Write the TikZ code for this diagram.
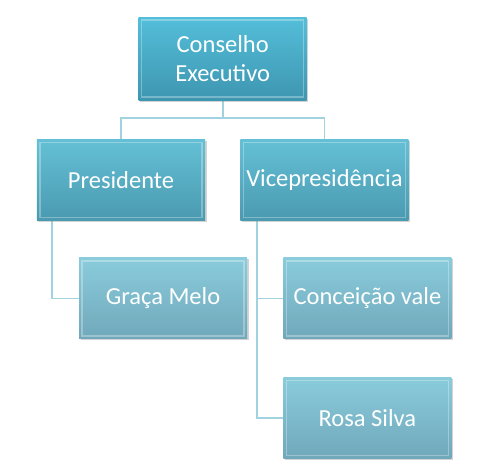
\documentclass[tikz,border=0pt]{standalone}
\usepackage{fontspec}
\setmainfont{Carlito}
\usepackage{tikz}
\usetikzlibrary{
  backgrounds,
  calc,
  positioning,
  shadows
}
\definecolor{headtop}{RGB}{84,190,218}
\definecolor{headbot}{RGB}{62,150,176}
\definecolor{midtop}{RGB}{100,192,214}
\definecolor{midbot}{RGB}{74,154,176}
\definecolor{leaftop}{RGB}{138,204,220}
\definecolor{leafbot}{RGB}{112,168,186}
\definecolor{linkblue}{RGB}{162,210,224}
\tikzset{
  orgbox/.style={draw=none,minimum width=168bp,minimum height=81bp,
    inner sep=0pt,align=center,text=white,
    font=\fontsize{24.5bp}{29bp}\selectfont,
    drop shadow={opacity=.35,shadow xshift=1.5bp,shadow yshift=-1.5bp},
    path picture={\draw[white,opacity=.3,line width=1.5bp]
      ([shift={(3bp,3bp)}]path picture bounding box.south west) rectangle
      ([shift={(-3bp,-3bp)}]path picture bounding box.north east);}},
  headbox/.style={orgbox,minimum height=83bp,top color=headtop,bottom color=headbot},
  midbox/.style={orgbox,top color=midtop,bottom color=midbot},
  leafbox/.style={orgbox,top color=leaftop,bottom color=leafbot},
  link/.style={draw=linkblue,line width=1.8bp}
}
\begin{document}
\begin{tikzpicture}[x=1bp,y=-1bp]
  \useasboundingbox (0,0) rectangle (500,472);
  \node[midbox] (pres) at (121,180) {Presidente};
  \node[midbox,right=35bp of pres] (vice) {Vicepresidência};
  \node[headbox,above=39bp of $(pres.north)!.5!(vice.north)$,anchor=south] (cons)
    {Conselho\\Executivo};
  \node[leafbox,below=37bp of pres,xshift=42bp] (graca) {Graça Melo};
  \node[leafbox,below=37bp of vice,xshift=43bp] (conc) {Conceição vale};
  \node[leafbox,below=38bp of conc] (rosa) {Rosa Silva};
  \begin{scope}[on background layer]
    \draw[link] (cons.south) -- ++(0,18) coordinate (hub);
    \draw[link] (pres.north) |- (hub) -| (vice.north);
    \draw[link] ([xshift=15bp]pres.south west) |- (graca.west);
    \draw[link] ([xshift=17bp]vice.south west) |- (conc.west);
    \draw[link] ([xshift=17bp]vice.south west) |- (rosa.west);
  \end{scope}
\end{tikzpicture}
\end{document}
